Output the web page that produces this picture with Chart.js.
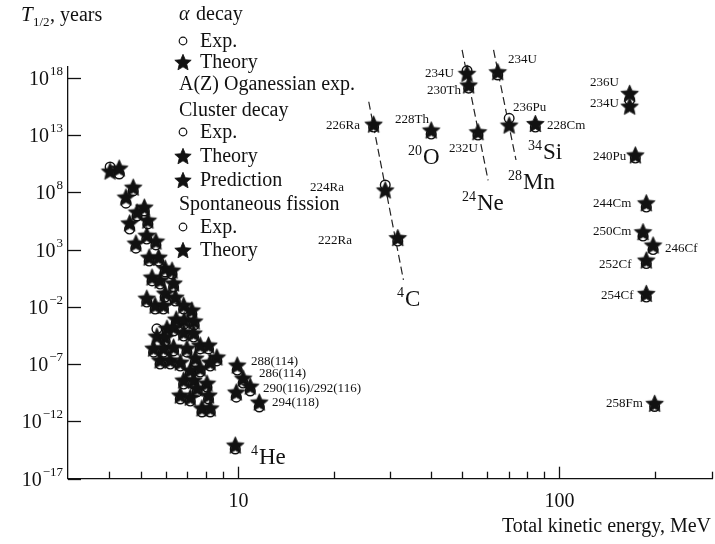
<!DOCTYPE html>
<html>
<head>
<meta charset="utf-8">
<title>Half-lives vs total kinetic energy</title>
<script src="https://cdn.jsdelivr.net/npm/chart.js@4.4.1/dist/chart.umd.min.js"></script>
<style>
  html, body { margin: 0; padding: 0; background: #fff; }
  canvas { display: block; }
</style>
</head>
<body>
<canvas id="chart-halflife" width="715" height="544"></canvas>
<script>
//---data (energy in MeV, half-life in years)

// alpha decay
var alphaE = [3.99, 4.26, 4.71, 4.47, 5.10, 4.84, 5.23, 4.59, 5.19, 5.54,
              4.80, 5.28, 5.65, 5.92, 6.22, 5.39, 5.71, 6.29, 5.92, 6.37,
              5.19, 5.51, 5.85, 6.76, 7.17, 6.41, 6.79, 7.29, 6.00, 6.29,
              6.76, 7.26, 5.58, 5.92, 5.45, 5.85, 6.29, 6.92, 7.61, 8.08,
              8.58, 5.71, 6.14, 6.60, 7.35, 8.18, 7.09, 7.61, 6.76, 7.26,
              7.99, 7.45, 6.60, 7.09, 8.08, 7.71, 8.18];
var alphaTheory = [7.1e9, 1.3e10, 2.8e8, 3.8e7, 5.1e6, 1.9e6, 3.7e5, 2.1e5, 1.8e4, 5.5e3,
                   3.7e3, 220, 220, 24, 16, 4.0, 2.2, 1.2, 0.16, 0.071,
                   0.058, 0.014, 0.014, 0.014, 5.3e-3, 8.6e-4, 7.0e-4, 5.8e-4, 1.4e-4, 1.7e-4,
                   6.3e-5, 5.2e-5, 2.8e-5, 2.3e-5, 2.5e-6, 2.5e-6, 3.1e-6, 2.5e-6, 4.6e-6, 4.6e-6,
                   4.2e-7, 2.3e-7, 2.3e-7, 1.5e-7, 3.4e-7, 1.5e-7, 3.0e-8, 4.6e-8, 4.1e-9, 4.1e-9,
                   2.2e-9, 8.2e-10, 2.0e-10, 1.3e-10, 2.0e-10, 1.5e-11, 1.5e-11];
var alphaExp = [1.6e10, 3.9e9, 1.3e8, 1.1e7, 2.3e6, 8.4e5, 1.7e5, 6.1e4, 8.2e3, 2.5e3,
                1.3e3, 99, 99, 11, 7.3, 1.8, 0.97, 0.53, 0.071, 0.032,
                0.026, 6.4e-3, 6.4e-3, 6.4e-3, 2.4e-3, 3.9e-4, 3.2e-4, 2.6e-4, 6.3e-5, 7.7e-5,
                2.8e-5, 2.3e-5, 1.2e-4, 1.0e-5, 1.1e-6, 1.1e-6, 1.4e-6, 1.1e-6, 2.1e-6, 2.1e-6,
                1.9e-7, 1.0e-7, 1.0e-7, 6.8e-8, 1.5e-7, 6.8e-8, 1.4e-8, 2.0e-8, 1.8e-9, 1.8e-9,
                1.0e-9, 3.7e-10, 9.0e-11, 6.0e-11, 9.0e-11, 6.6e-12, 6.6e-12];

// superheavy A(Z), Oganessian exp., and 4He
var heavyNames = ['288(114)', '286(114)', '290(116)', '292(116)', '294(118)', '4He'];
var heavyE = [9.93, 10.36, 10.90, 9.86, 11.63, 9.79];
var heavyTheory = [8.3e-8, 6.1e-9, 1.2e-9, 3.7e-10, 4.9e-11, 8.7e-15];
var heavyExp = [3.0e-8, 2.2e-9, 4.5e-10, 1.3e-10, 1.8e-11, 3.9e-15];

// cluster decay
var clusterNames = ['226Ra', '224Ra', '222Ra', '228Th', '234U', '230Th', '232U', '234U', '236Pu', '228Cm'];
var clusterE = [26.4, 28.7, 31.4, 39.9, 51.6, 52.2, 55.8, 64.3, 69.8, 84.2];
var clusterTheory = [8.9e13, 1.6e8, 1.1e4, 2.7e13, 2.4e18, 2.3e17, 1.9e13, 3.3e18, 7.3e13, 1.0e14];
var clusterExp = [4.9e13, 4.3e8, 5.5e3, 1.2e13, 4.0e18, 1.2e17, 9.8e12, 1.7e18, 2.8e14, 4.9e13];

// spontaneous fission
var fissionNames = ['236U', '234U', '240Pu', '244Cm', '250Cm', '246Cf', '252Cf', '254Cf', '258Fm'];
var fissionE = [165.6, 165.6, 172.5, 186.6, 182.3, 195.9, 186.6, 186.6, 198.1];
var fissionTheory = [4.3e16, 3.3e15, 1.8e11, 1.2e7, 3.6e4, 2.5e3, 121, 0.15, 3.8e-11];
var fissionExp = [null, 1.1e16, 9.6e10, 5.1e6, 1.5e4, 1.0e3, 60, 0.071, 2.0e-11];

// dashed guide lines for emitted clusters
var carbonLineE = [25.5, 32.7],     carbonLineT = [7.9e15, 2.2];
var neonLineE = [49.8, 60.0],       neonLineT = [2.6e20, 1.1e9];
var magnesiumLineE = [62.4, 73.3],  magnesiumLineT = [2.6e20, 6.5e10];

// axes
var yTickValues = [1e18, 1e13, 1e8, 1e3, 1e-2, 1e-7, 1e-12, 1e-17];
var yTickPowers = ['18', '13', '8', '3', '\u22122', '\u22127', '\u221212', '\u221217'];
var xMajorValues = [10, 100];
var xMajorLabels = ['10', '100'];
var xMinorValues = [4, 5, 6, 7, 8, 9, 20, 30, 40, 50, 60, 70, 80, 90, 200, 300];

var SERIF = '"Liberation Serif", "Times New Roman", serif';

//---markers
function makeStar(r) {
    var s = Math.ceil(r * 2 + 2);
    var cv = document.createElement('canvas');
    cv.width = s;
    cv.height = s;
    var g = cv.getContext('2d');
    g.translate(s / 2, s / 2 + 0.9);
    g.beginPath();
    for (var i = 0; i < 10; i++) {
        var rad = i % 2 ? r * 0.46 : r;
        var a = -Math.PI / 2 + i * Math.PI / 5;
        g.lineTo(rad * Math.cos(a), rad * Math.sin(a));
    }
    g.closePath();
    g.fillStyle = '#111';
    g.fill();
    g.lineWidth = 0.8;
    g.strokeStyle = '#111';
    g.stroke();
    return cv;
}
var starImg = makeStar(9.2);
var starSmall = makeStar(8.6);

function pts(xs, ys) {
    var out = [];
    for (var i = 0; i < xs.length; i++) {
        if (ys[i] !== null) out.push({ x: xs[i], y: ys[i] });
    }
    return out;
}

function starSet(label, xs, ys) {
    return {
        label: label, data: pts(xs, ys), order: 1, clip: false,
        pointStyle: starImg, pointRadius: 9, showLine: false
    };
}
function circleSet(label, xs, ys) {
    return {
        label: label, data: pts(xs, ys), order: 2, clip: false,
        pointStyle: 'circle', pointRadius: 4.8, borderWidth: 1.4,
        borderColor: '#111', backgroundColor: '#fff', showLine: false
    };
}
function guideSet(label, xs, ys) {
    return {
        label: label, data: pts(xs, ys), order: 3, clip: false,
        showLine: true, pointRadius: 0, borderColor: '#222',
        borderWidth: 1.2, borderDash: [8, 4], fill: false
    };
}

//---text helpers
function supLabel(c, base, sup, x, y, opts) {
    // base text with raised superscript; x is the left edge unless opts.right
    c.font = opts.size + 'px ' + SERIF;
    var wb = c.measureText(base).width;
    c.font = opts.supSize + 'px ' + SERIF;
    var ws = c.measureText(sup).width;
    var left = opts.right ? x - wb - ws - 1 : x;
    if (opts.supFirst) {
        c.font = opts.supSize + 'px ' + SERIF;
        c.fillText(sup, left, y - opts.rise);
        c.font = opts.size + 'px ' + SERIF;
        c.fillText(base, left + ws + 1, y);
    } else {
        c.font = opts.size + 'px ' + SERIF;
        c.fillText(base, left, y);
        c.font = opts.supSize + 'px ' + SERIF;
        c.fillText(sup, left + wb + 1, y - opts.rise);
    }
}

var isotopeLabels = [
    ['226Ra', 326, 126], ['224Ra', 310, 188], ['222Ra', 318, 241],
    ['228Th', 395, 120], ['234U', 425, 74], ['230Th', 427, 91], ['232U', 449, 149],
    ['234U', 508, 60], ['236Pu', 513, 108], ['228Cm', 547, 126],
    ['236U', 590, 83], ['234U', 590, 104], ['240Pu', 593, 157], ['244Cm', 593, 204],
    ['250Cm', 593, 232], ['246Cf', 665, 249], ['252Cf', 599, 265], ['254Cf', 601, 296],
    ['258Fm', 606, 404],
    ['288(114)', 251, 362], ['286(114)', 259, 374], ['290(116)/292(116)', 263, 389],
    ['294(118)', 272, 403]
];
var nucleusLabels = [
    ['O', '20', 408, 156], ['Ne', '24', 462, 202], ['C', '4', 397, 298],
    ['Mn', '28', 508, 181], ['Si', '34', 528, 151], ['He', '4', 251, 456]
];

var decor = {
    id: 'decor',
    afterDraw: function (chart) {
        var c = chart.ctx, xs = chart.scales.x, ys = chart.scales.y;
        var area = chart.chartArea;
        c.save();
        c.strokeStyle = '#111';
        c.fillStyle = '#111';
        c.lineWidth = 1.3;

        // y ticks and labels
        c.textBaseline = 'middle';
        for (var i = 0; i < yTickValues.length; i++) {
            var py = Math.round(ys.getPixelForValue(yTickValues[i])) + 0.5;
            c.beginPath();
            c.moveTo(area.left, py);
            c.lineTo(area.left + 13, py);
            c.stroke();
            supLabel(c, '10', yTickPowers[i], 63, py + 1, { size: 20, supSize: 13, rise: 8, right: true });
        }

        // x ticks and labels
        var by = area.bottom;
        for (var j = 0; j < xMajorValues.length; j++) {
            var px = Math.round(xs.getPixelForValue(xMajorValues[j])) + 0.5;
            c.beginPath();
            c.moveTo(px, by);
            c.lineTo(px, by - 12);
            c.stroke();
            c.font = '20px ' + SERIF;
            c.textAlign = 'center';
            c.fillText(xMajorLabels[j], px, by + 23);
        }
        for (var k = 0; k < xMinorValues.length; k++) {
            var qx = Math.round(xs.getPixelForValue(xMinorValues[k])) - 0.5;
            c.beginPath();
            c.moveTo(qx, by);
            c.lineTo(qx, by - 7);
            c.stroke();
        }

        // axis titles
        c.textAlign = 'left';
        c.textBaseline = 'alphabetic';
        c.font = 'italic 21px ' + SERIF;
        c.fillText('T', 21, 21);
        c.font = '13px ' + SERIF;
        c.fillText('1/2', 33, 26);
        c.font = '20px ' + SERIF;
        c.fillText(', years', 50, 21);
        c.textAlign = 'right';
        c.fillText('Total kinetic energy, MeV', 711, 532);

        // legend
        c.textAlign = 'left';
        c.textBaseline = 'middle';
        var lx = 179, mx = 183, tx = 200;
        c.font = 'italic 20px ' + SERIF;
        c.fillText('\u03b1', lx, 15);
        c.font = '20px ' + SERIF;
        c.fillText(' decay', lx + 12, 15);
        var rows = [
            ['c', 'Exp.', 42], ['s', 'Theory', 63], ['h', 'A(Z) Oganessian exp.', 85],
            ['h', 'Cluster decay', 111], ['c', 'Exp.', 133], ['s', 'Theory', 157],
            ['s', 'Prediction', 181], ['h', 'Spontaneous fission', 205],
            ['c', 'Exp.', 228], ['s', 'Theory', 251]
        ];
        rows.forEach(function (r) {
            if (r[0] === 'h') {
                c.fillText(r[1], lx, r[2]);
                return;
            }
            if (r[0] === 'c') {
                c.beginPath();
                c.arc(mx, r[2] - 1, 3.8, 0, Math.PI * 2);
                c.lineWidth = 1.2;
                c.stroke();
            } else {
                c.drawImage(starSmall, mx - starSmall.width / 2, r[2] - 1 - starSmall.height / 2);
            }
            c.fillText(r[1], tx, r[2]);
        });

        // isotope names
        c.font = '13px ' + SERIF;
        isotopeLabels.forEach(function (l) {
            c.fillText(l[0], l[1], l[2]);
        });
        // emitted nuclei
        c.textBaseline = 'alphabetic';
        nucleusLabels.forEach(function (l) {
            supLabel(c, l[0], l[1], l[2], l[3] + 8, { size: 23, supSize: 14, rise: 9, supFirst: true });
        });
        c.restore();
    }
};

//---chart
function half_life_chart() {
    var config = {
        type: 'scatter',
        data: {
            datasets: [
                starSet('Alpha theory', alphaE, alphaTheory),
                starSet('Oganessian theory', heavyE, heavyTheory),
                starSet('Cluster theory', clusterE, clusterTheory),
                starSet('Fission theory', fissionE, fissionTheory),
                circleSet('Alpha exp.', alphaE, alphaExp),
                circleSet('Oganessian exp.', heavyE, heavyExp),
                circleSet('Cluster exp.', clusterE, clusterExp),
                circleSet('Fission exp.', fissionE, fissionExp),
                guideSet('4C', carbonLineE, carbonLineT),
                guideSet('24Ne', neonLineE, neonLineT),
                guideSet('28Mg', magnesiumLineE, magnesiumLineT)
            ]
        },
        options: {
            responsive: false,
            animation: false,
            events: [],
            layout: {
                autoPadding: false,
                padding: { left: 68, top: 67, right: 2.5, bottom: 65.3 }
            },
            plugins: {
                legend: { display: false },
                tooltip: { enabled: false }
            },
            scales: {
                x: {
                    type: 'logarithmic',
                    min: 2.95,
                    max: 300,
                    ticks: { display: false },
                    grid: { display: false, drawTicks: false, tickLength: 0 },
                    border: { display: true, color: '#111', width: 1.3 }
                },
                y: {
                    type: 'logarithmic',
                    min: 1e-17,
                    max: 8.5e18,
                    ticks: { display: false },
                    grid: { display: false, drawTicks: false, tickLength: 0 },
                    border: { display: true, color: '#111', width: 1.3 }
                }
            }
        },
        plugins: [decor]
    };
    var ctx = document.getElementById('chart-halflife').getContext('2d');
    window.halfLifeChart = new Chart(ctx, config);
}
if (document.getElementById('chart-halflife')) {
    half_life_chart();
}
</script>
</body>
</html>
